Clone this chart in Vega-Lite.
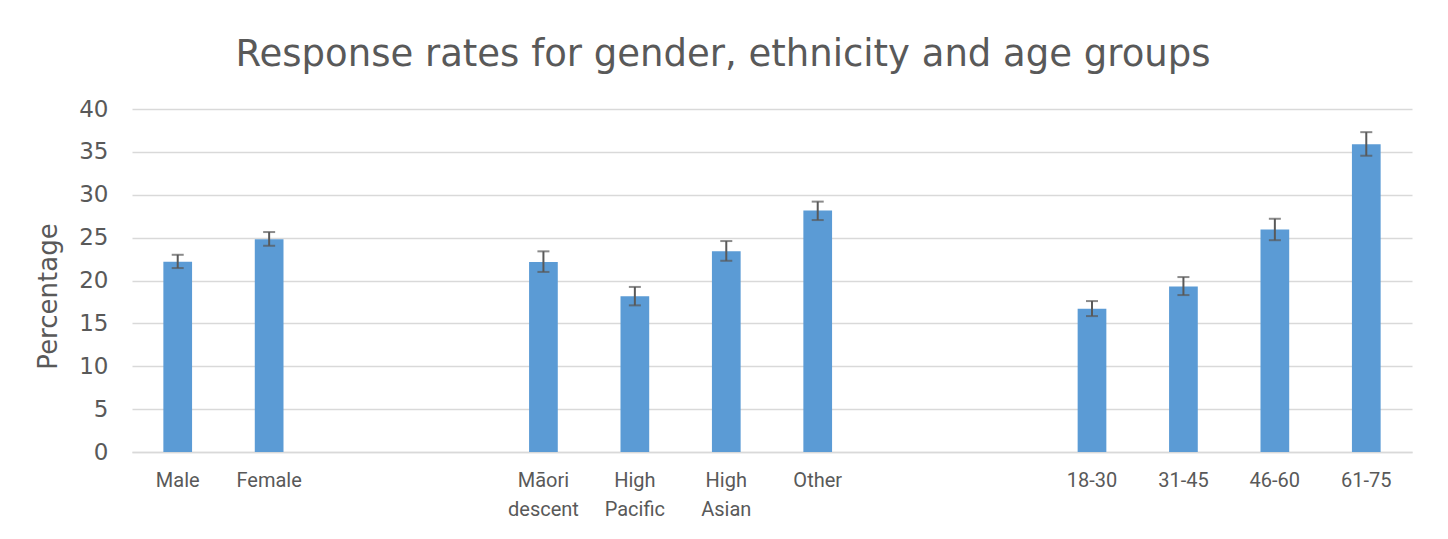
{
  "$schema": "https://vega.github.io/schema/vega-lite/v6.json",
  "width": 1280,
  "height": 343,
  "autosize": {"type": "none"},
  "padding": {"left": 132, "top": 109, "right": 36, "bottom": 87},
  "background": "white",
  "title": {
    "text": "Response rates for gender, ethnicity and age groups",
    "font": "DejaVu Sans",
    "fontSize": 37,
    "fontWeight": "normal",
    "color": "#595959",
    "anchor": "middle",
    "dx": -49,
    "baseline": "alphabetic",
    "offset": -5
  },
  "data": {
    "values": [
      {"group": "Male", "value": 22.2, "lo": 21.45, "hi": 23.0},
      {"group": "Female", "value": 24.8, "lo": 24.05, "hi": 25.65},
      {"group": "Māori descent", "value": 22.15, "lo": 21.0, "hi": 23.4},
      {"group": "High Pacific", "value": 18.15, "lo": 17.1, "hi": 19.25},
      {"group": "High Asian", "value": 23.4, "lo": 22.3, "hi": 24.6},
      {"group": "Other", "value": 28.15, "lo": 27.05, "hi": 29.2},
      {"group": "18-30", "value": 16.7, "lo": 15.85, "hi": 17.6},
      {"group": "31-45", "value": 19.3, "lo": 18.3, "hi": 20.4},
      {"group": "46-60", "value": 25.95, "lo": 24.7, "hi": 27.2},
      {"group": "61-75", "value": 35.9, "lo": 34.55, "hi": 37.3}
    ]
  },
  "encoding": {
    "x": {
      "field": "group",
      "type": "nominal",
      "sort": null,
      "scale": {
        "domain": ["Male", "Female", "gap1", "gap2", "Māori descent", "High Pacific", "High Asian", "Other", "gap3", "gap4", "18-30", "31-45", "46-60", "61-75"],
        "paddingInner": 0.686,
        "paddingOuter": 0.343
      },
      "axis": {
        "title": null,
        "labelAngle": 0,
        "labelExpr": "indexof(datum.label, 'gap') == 0 ? '' : split(datum.label, ' ')",
        "labelFont": "Roboto",
        "labelFontSize": 20,
        "labelColor": "#595959",
        "labelBaseline": "top",
        "labelLineHeight": 29,
        "labelPadding": 18,
        "ticks": false,
        "domainColor": "#d9d9d9",
        "domainWidth": 1.5,
        "grid": false
      }
    }
  },
  "layer": [
    {
      "mark": {"type": "bar", "color": "#5B9BD5"},
      "encoding": {
        "y": {
          "field": "value",
          "type": "quantitative",
          "scale": {"domain": [0, 40], "nice": false},
          "axis": {
            "title": "Percentage",
            "values": [0, 5, 10, 15, 20, 25, 30, 35, 40],
            "titleFont": "DejaVu Sans",
            "titleFontSize": 26,
            "titleFontWeight": "normal",
            "titleColor": "#595959",
            "titlePadding": 17,
            "titleY": 187,
            "labelFont": "DejaVu Sans",
            "labelFontSize": 23,
            "labelColor": "#595959",
            "labelPadding": 24,
            "ticks": false,
            "domain": false,
            "grid": true,
            "gridColor": "#d9d9d9",
            "gridWidth": 1.5
          }
        }
      }
    },
    {
      "mark": {"type": "rule", "color": "#595959", "strokeWidth": 2},
      "encoding": {
        "y": {"field": "lo", "type": "quantitative"},
        "y2": {"field": "hi"}
      }
    },
    {
      "mark": {"type": "tick", "color": "#595959", "size": 12, "thickness": 2, "orient": "horizontal"},
      "encoding": {
        "y": {"field": "lo", "type": "quantitative"}
      }
    },
    {
      "mark": {"type": "tick", "color": "#595959", "size": 12, "thickness": 2, "orient": "horizontal"},
      "encoding": {
        "y": {"field": "hi", "type": "quantitative"}
      }
    }
  ],
  "config": {
    "view": {"stroke": null},
    "tick": {"bandSize": 12}
  }
}
